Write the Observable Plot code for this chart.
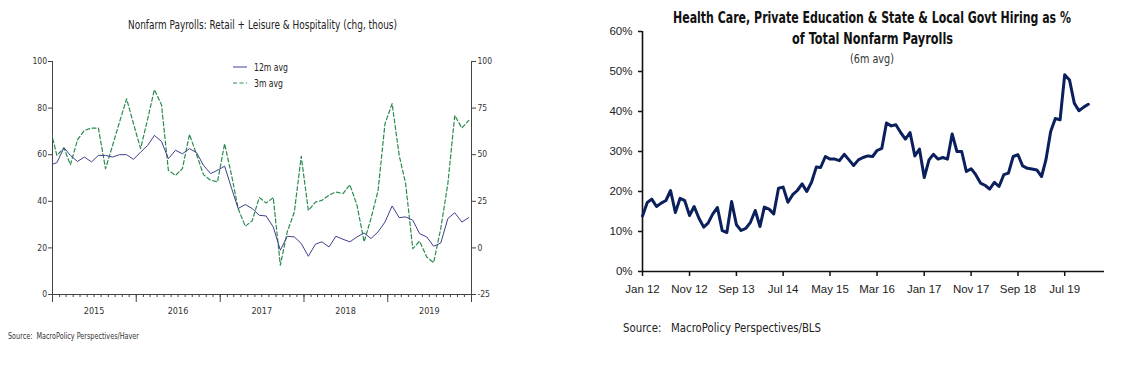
<!DOCTYPE html>
<html><head><meta charset="utf-8">
<script src="https://cdn.jsdelivr.net/npm/d3@7"></script>
<script src="https://cdn.jsdelivr.net/npm/@observablehq/plot@0.6"></script>
<style>
html,body{margin:0;padding:0;background:#fff;}
#root{position:relative;width:1125px;height:378px;overflow:hidden;background:#fff;}
.panel{position:absolute;top:0;}
.txt{position:absolute;white-space:pre;transform-origin:0 50%;line-height:1;}
</style></head><body><div id="root"></div>
<script>
// ---------- Left chart data (Dec 2014 .. Dec 2019, monthly) ----------
const payrollStart = "2014-12";
const payrollEnd = "2020-01";
const avg12m = [55.5,
  56.6, 63, 59.7, 57.1, 59, 56.9, 59.7, 59.7, 59, 60,
  60, 58, 61.1, 64, 68.3, 65.7, 58.3, 61.9, 60.4, 62.6,
  60.9, 55.4, 51.9, 53.3, 55.1, 45.4, 36.9, 38.6, 36.9, 34,
  33.7, 29, 19, 25, 24.7, 21.9, 16.4, 21.6, 22.6, 20.4,
  25, 23.7, 22.6, 24.7, 26.4, 24, 26.9, 31.1, 38, 33,
  33.3, 31.9, 26.1, 24.7, 20.7, 22.1, 32.6, 35.1, 31.1, 33];
const avg3m = [65.3,
  49.6, 53.6, 44.6, 58, 63, 64.3, 64.3, 42.5, 55, 67.5,
  80, 66.6, 53.3, 69.3, 84.9, 76.8, 41.6, 38.9, 42.5, 60.9,
  50, 39.3, 36.3, 35.4, 55.9, 38.6, 21.1, 11.6, 14.5, 27,
  24.1, 27, -9.3, 8.6, 19.3, 49.1, 20.1, 24.6, 25.5, 28.3,
  30, 29.1, 33.9, 22.9, 3.3, 15.8, 30.9, 66.6, 77.4, 49.6,
  34.5, -0.4, 3.6, -4.9, -7.9, 10.4, 34.5, 71.1, 64.3, 68.4];
const leftTicks = [0, 20, 40, 60, 80, 100];
const rightTickLabels = ["-25", "0", "25", "50", "75", "100"];
const yearLabels = ["2015", "2016", "2017", "2018", "2019"];
const seriesNames = ["12m avg", "3m avg"];

// ---------- Right chart data (Jan 2012 .. Dec 2019, monthly, %) ----------
const healthStart = "2012-01";
const healthEnd = "2020-01";
const healthShare = [
  13.9, 17.25, 18.1, 16.25, 17.1, 17.75, 20.25, 14.75, 18.3, 17.7,
  14, 16.25, 13.3, 11.1, 12.1, 14.4, 16, 10.2, 9.75, 17.5,
  11.7, 10.25, 10.8, 12.3, 15.25, 11.25, 16.1, 15.6, 14.4, 20.8,
  21.1, 17.3, 19.2, 20.25, 21.9, 20, 22.3, 26.1, 26, 28.75,
  28.1, 28.1, 27.7, 29.3, 27.9, 26.5, 27.9, 28.5, 28.9, 28.75,
  30.25, 30.8, 37.1, 36.4, 36.7, 34.75, 33.1, 34.75, 28.9, 30.6,
  23.5, 27.9, 29.3, 28.1, 28.5, 28.1, 34.4, 30, 30, 25,
  25.7, 24.2, 22.1, 21.5, 20.6, 22.3, 21.25, 24.2, 24.6, 28.75,
  29.2, 26.4, 25.8, 25.6, 25.4, 23.75, 27.9, 35, 38.25, 37.9,
  49.2, 47.9, 42.1, 40.2, 41.1, 41.8];
const pctTicks = [0, 10, 20, 30, 40, 50, 60];
const pctTickLabels = ["0%", "10%", "20%", "30%", "40%", "50%", "60%"];
const dateTickLabels = ["Jan 12", "Nov 12", "Sep 13", "Jul 14", "May 15", "Mar 16", "Jan 17", "Nov 17", "Sep 18", "Jul 19"];

// ---------- helpers ----------
const root = document.getElementById("root");
const parseYM = d3.utcParse("%Y-%m");
function addText(str, {x, y, w, size, weight = 400, family, color = "#222"}) {
  const el = document.createElement("div");
  el.className = "txt";
  el.textContent = str;
  el.style.fontSize = size + "px";
  el.style.fontWeight = weight;
  el.style.fontFamily = family;
  el.style.color = color;
  el.style.left = x + "px";
  root.appendChild(el);
  const r = el.getBoundingClientRect();
  el.style.top = (y - r.height / 2) + "px";
  if (w) el.style.transform = `scaleX(${w / r.width})`;
  return el;
}
const NARROW = '"Liberation Sans Narrow","DejaVu Sans Condensed","Liberation Sans",sans-serif';
const SANS = '"Liberation Sans",Arial,sans-serif';

// ---------- Left chart ----------
const payMonths = d3.utcMonth.range(parseYM(payrollStart), parseYM(payrollEnd));
const payData = payMonths.map((m, i) => ({
  date: d3.utcDay.offset(m, 19),
  a12: avg12m[i],
  a3: avg3m[i]
}));
const xLeftDomain = [parseYM(yearLabels[0] + "-01"), d3.utcYear.offset(parseYM(yearLabels[yearLabels.length - 1] + "-01"), 1)];
const monthTicks = d3.utcMonth.range(xLeftDomain[0], d3.utcDay.offset(xLeftDomain[1], 1));
const yearTicks = d3.utcYear.range(xLeftDomain[0], d3.utcDay.offset(xLeftDomain[1], 1));
const yearMid = yearLabels.map(y => parseYM(y + "-07"));
const toLeft = r => (r + 25) / 1.25; // right axis (-25..100) onto left axis (0..100)
const blue = "#3f3f8e", green = "#2b8a4f";

const leftPlot = Plot.plot({
  width: 500, height: 330,
  marginLeft: 52, marginRight: 29, marginTop: 61, marginBottom: 36,
  style: {fontFamily: NARROW, fontSize: "8.5px", color: "#333", background: "transparent", overflow: "visible"},
  x: {type: "utc", domain: xLeftDomain, label: null},
  y: {domain: [0, 100], label: null},
  marks: [
    Plot.ruleX([xLeftDomain[0], xLeftDomain[1]], {stroke: "#444"}),
    Plot.ruleY([0], {stroke: "#444"}),
    Plot.axisY(leftTicks, {anchor: "left", tickSize: 4, tickPadding: 1.5, stroke: "#444", label: null}),
    Plot.axisY(leftTicks, {anchor: "right", tickSize: 4, tickPadding: 2, stroke: "#444", label: null,
      tickFormat: d => rightTickLabels[leftTicks.indexOf(d)]}),
    Plot.axisX(monthTicks, {tickSize: 3, tickFormat: () => "", stroke: "#444", label: null}),
    Plot.axisX(yearTicks, {tickSize: 8, tickFormat: () => "", stroke: "#444", label: null}),
    Plot.axisX(yearMid, {tickSize: 0, tickPadding: 13, fontSize: 9, label: null, tickFormat: d => yearLabels[yearMid.findIndex(t => +t === +d)]}),
    Plot.line(payData, {x: "date", y: d => toLeft(d.a3), stroke: green, strokeWidth: 1.2, strokeDasharray: "4,2.5", clip: true}),
    Plot.line(payData, {x: "date", y: "a12", stroke: blue, strokeWidth: 1, clip: true})
  ]
});
leftPlot.classList.add("panel");
leftPlot.style.left = "0px";
root.appendChild(leftPlot);

// legend
const leg = document.createElementNS("http://www.w3.org/2000/svg", "svg");
leg.setAttribute("width", 20); leg.setAttribute("height", 30);
leg.style.position = "absolute"; leg.style.left = "230px"; leg.style.top = "60px";
leg.innerHTML = `<line x1="3" x2="17" y1="7" y2="7" stroke="${blue}" stroke-width="1"/>
<line x1="3" x2="17" y1="23" y2="23" stroke="${green}" stroke-width="1.2" stroke-dasharray="4,2.5"/>`;
root.appendChild(leg);
addText(seriesNames[0], {x: 254, y: 67, w: 34, size: 10.5, family: NARROW, color: "#222"});
addText(seriesNames[1], {x: 254, y: 83, w: 29, size: 10.5, family: NARROW, color: "#222"});
addText("Nonfarm Payrolls: Retail + Leisure & Hospitality (chg, thous)", {x: 128, y: 25, w: 269, size: 12.5, family: NARROW, color: "#222"});
addText("Source:  MacroPolicy Perspectives/Haver", {x: 8, y: 336, w: 131, size: 8.5, family: NARROW, color: "#333"});

// ---------- Right chart ----------
const healthMonths = d3.utcMonth.range(parseYM(healthStart), parseYM(healthEnd));
const healthData = healthMonths.map((m, i) => ({date: m, v: healthShare[i]}));
const parseTick = d3.utcParse("%b %y");
const fmtTick = d3.utcFormat("%b %y");
const dateTicks = dateTickLabels.map(parseTick);
const xRightDomain = [parseYM(healthStart), new Date(Date.UTC(2020, 2, 15))];

const rightPlot = Plot.plot({
  width: 545, height: 300,
  marginLeft: 62, marginRight: 21, marginTop: 31, marginBottom: 29,
  style: {fontFamily: SANS, fontSize: "11.5px", color: "#222", background: "transparent", overflow: "visible"},
  x: {type: "utc", domain: xRightDomain, label: null},
  y: {domain: [0, 60], label: null},
  marks: [
    Plot.ruleY([0], {stroke: "#111", strokeWidth: 1.6}),
    Plot.ruleX([xRightDomain[0]], {stroke: "#111", strokeWidth: 1.6}),
    Plot.axisY(pctTicks, {anchor: "left", tickSize: 4, tickPadding: 6, strokeWidth: 1.5, stroke: "#111", label: null,
      tickFormat: d => pctTickLabels[pctTicks.indexOf(d)]}),
    Plot.axisX(dateTicks, {tickSize: 5, tickPadding: 8, strokeWidth: 1.5, stroke: "#111", label: null, tickFormat: fmtTick}),
    Plot.line(healthData, {x: "date", y: "v", stroke: "#0b1f5c", strokeWidth: 3, strokeLinejoin: "round"})
  ]
});
rightPlot.classList.add("panel");
rightPlot.style.left = "580px";
root.appendChild(rightPlot);

addText("Health Care, Private Education & State & Local Govt Hiring as %", {x: 673, y: 18, w: 398, size: 15, weight: 700, family: NARROW, color: "#111"});
addText("of Total Nonfarm Payrolls", {x: 792, y: 39, w: 161, size: 15, weight: 700, family: NARROW, color: "#111"});
addText("(6m avg)", {x: 850, y: 59, w: 44, size: 12, family: NARROW, color: "#333"});
addText("Source:   MacroPolicy Perspectives/BLS", {x: 623, y: 328, w: 198, size: 12.5, family: NARROW, color: "#222"});
</script>
</body></html>
